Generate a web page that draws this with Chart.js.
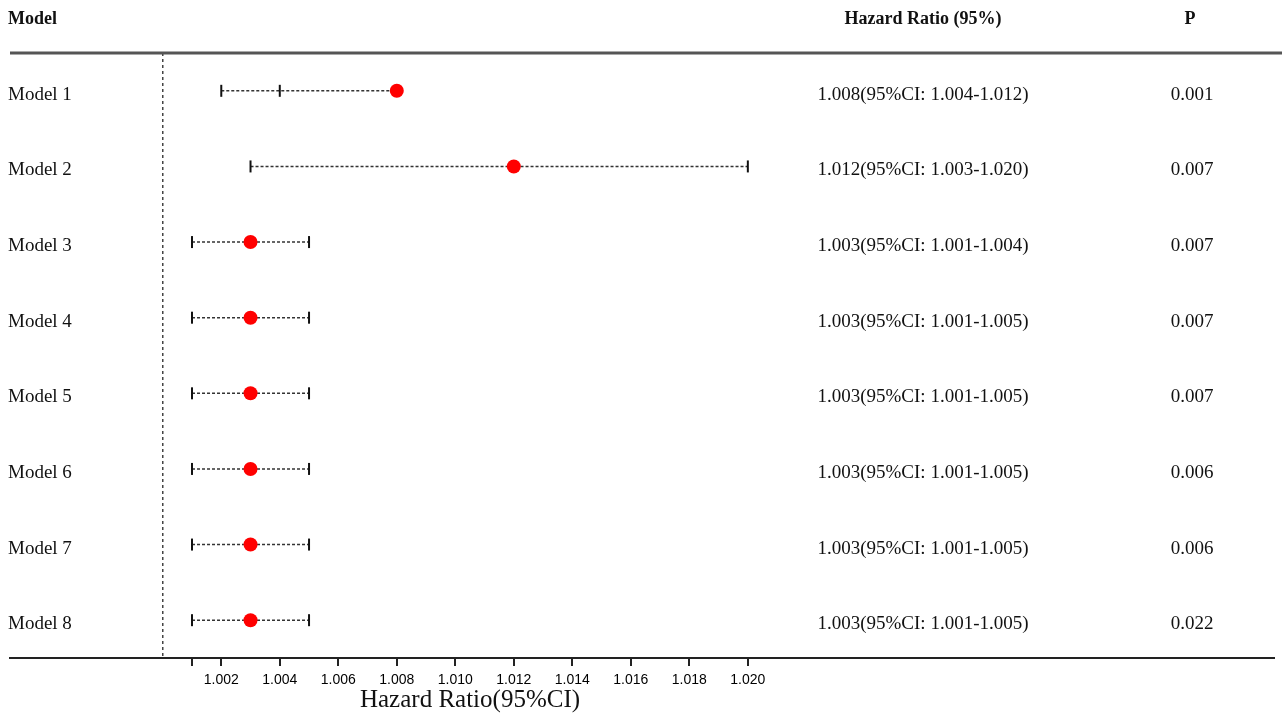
<!DOCTYPE html>
<html>
<head>
<meta charset="utf-8">
<script src="https://cdn.jsdelivr.net/npm/chart.js@4.4.1/dist/chart.umd.min.js"></script>
<style>
  body { margin: 0; background: #fff; }
  canvas { display: block; }
</style>
</head>
<body>
<canvas id="forest" width="1282" height="714"></canvas>
<script>
// data
const models = ['Model 1', 'Model 2', 'Model 3', 'Model 4', 'Model 5', 'Model 6', 'Model 7', 'Model 8']
const hr = [1.008, 1.012, 1.003, 1.003, 1.003, 1.003, 1.003, 1.003]
// whisker ends as drawn in the figure
const ciLow = [1.002, 1.003, 1.001, 1.001, 1.001, 1.001, 1.001, 1.001]
const ciHigh = [1.008, 1.020, 1.005, 1.005, 1.005, 1.005, 1.005, 1.005]
const extraTick = [1.004, null, null, null, null, null, null, null]
const hrLabels = [
    '1.008(95%CI: 1.004-1.012)',
    '1.012(95%CI: 1.003-1.020)',
    '1.003(95%CI: 1.001-1.004)',
    '1.003(95%CI: 1.001-1.005)',
    '1.003(95%CI: 1.001-1.005)',
    '1.003(95%CI: 1.001-1.005)',
    '1.003(95%CI: 1.001-1.005)',
    '1.003(95%CI: 1.001-1.005)'
]
const pValues = ['0.001', '0.007', '0.007', '0.007', '0.007', '0.006', '0.006', '0.022']
const tickValues = [1.001, 1.002, 1.004, 1.006, 1.008, 1.010, 1.012, 1.014, 1.016, 1.018, 1.020]
const tickLabels = ['', '1.002', '1.004', '1.006', '1.008', '1.010', '1.012', '1.014', '1.016', '1.018', '1.020']
const refLine = 1.000

const serif = '"Liberation Serif", "Times New Roman", serif'

// one dashed whisker per model
const whiskers = models.map((m, i) => {
    const pts = [{ x: ciLow[i], y: i + 1 }]
    if (extraTick[i] !== null) pts.push({ x: extraTick[i], y: i + 1 })
    pts.push({ x: ciHigh[i], y: i + 1 })
    return {
        type: 'line',
        data: pts,
        borderColor: '#333',
        borderWidth: 1.5,
        borderDash: [3, 2],
        pointStyle: 'line',
        rotation: 90,
        pointRadius: 6,
        pointBorderWidth: 2,
        pointBorderColor: '#111',
        order: 2
    }
})

const tablePlugin = {
    id: 'table',
    afterDraw(chart) {
        const ctx = chart.ctx
        const area = chart.chartArea
        const y = chart.scales.y
        ctx.save()

        // header rule
        ctx.strokeStyle = '#555'
        ctx.lineWidth = 3
        ctx.beginPath()
        ctx.moveTo(10, area.top)
        ctx.lineTo(1282, area.top)
        ctx.stroke()

        ctx.fillStyle = '#111'
        ctx.textBaseline = 'middle'
        ctx.font = 'bold 18px ' + serif
        ctx.textAlign = 'left'
        ctx.fillText('Model', 8, 19)
        ctx.textAlign = 'center'
        ctx.fillText('Hazard Ratio (95%)', 923, 19)
        ctx.fillText('P', 1190, 19)

        ctx.font = '19px ' + serif
        models.forEach((m, i) => {
            const py = y.getPixelForValue(i + 1) + 4
            ctx.textAlign = 'left'
            ctx.fillText(m, 8, py)
            ctx.textAlign = 'center'
            ctx.fillText(hrLabels[i], 923, py)
            ctx.fillText(pValues[i], 1192, py)
        })

        // axis title
        ctx.font = '25px ' + serif
        ctx.textAlign = 'center'
        ctx.fillText('Hazard Ratio(95%CI)', 470, 700)
        ctx.restore()
    }
}

new Chart(document.getElementById('forest'), {
    data: {
        datasets: [
            {
                type: 'line',
                data: [{ x: refLine, y: 0.5 }, { x: refLine, y: 8.5 }],
                borderColor: '#444',
                borderWidth: 1.5,
                borderDash: [3, 3],
                pointRadius: 0,
                order: 3
            },
            ...whiskers,
            {
                type: 'scatter',
                data: hr.map((v, i) => ({ x: v, y: i + 1 })),
                backgroundColor: '#ff0000',
                borderWidth: 0,
                pointRadius: 7,
                order: 1
            }
        ]
    },
    options: {
        responsive: false,
        animation: false,
        layout: { padding: { top: 53, left: 10, right: 0, bottom: 0 } },
        plugins: { legend: { display: false }, tooltip: { enabled: false } },
        scales: {
            x: {
                type: 'linear',
                min: 0.994778,
                max: 1.037986,
                afterBuildTicks(scale) {
                    scale.ticks = tickValues.map(v => ({ value: v }))
                },
                afterFit(scale) {
                    scale.height = 56
                },
                ticks: {
                    autoSkip: false,
                    maxRotation: 0,
                    padding: 6,
                    color: '#000',
                    font: { family: '"Liberation Sans", Arial, sans-serif', size: 14 },
                    callback: (value, index) => tickLabels[index]
                },
                grid: {
                    drawOnChartArea: false,
                    drawTicks: true,
                    tickLength: 8,
                    color: '#222',
                    lineWidth: 2
                },
                border: { display: true, color: '#222', width: 2 }
            },
            y: {
                type: 'linear',
                display: false,
                reverse: true,
                min: 0.5,
                max: 8.5
            }
        }
    },
    plugins: [tablePlugin]
})
</script>
</body>
</html>
